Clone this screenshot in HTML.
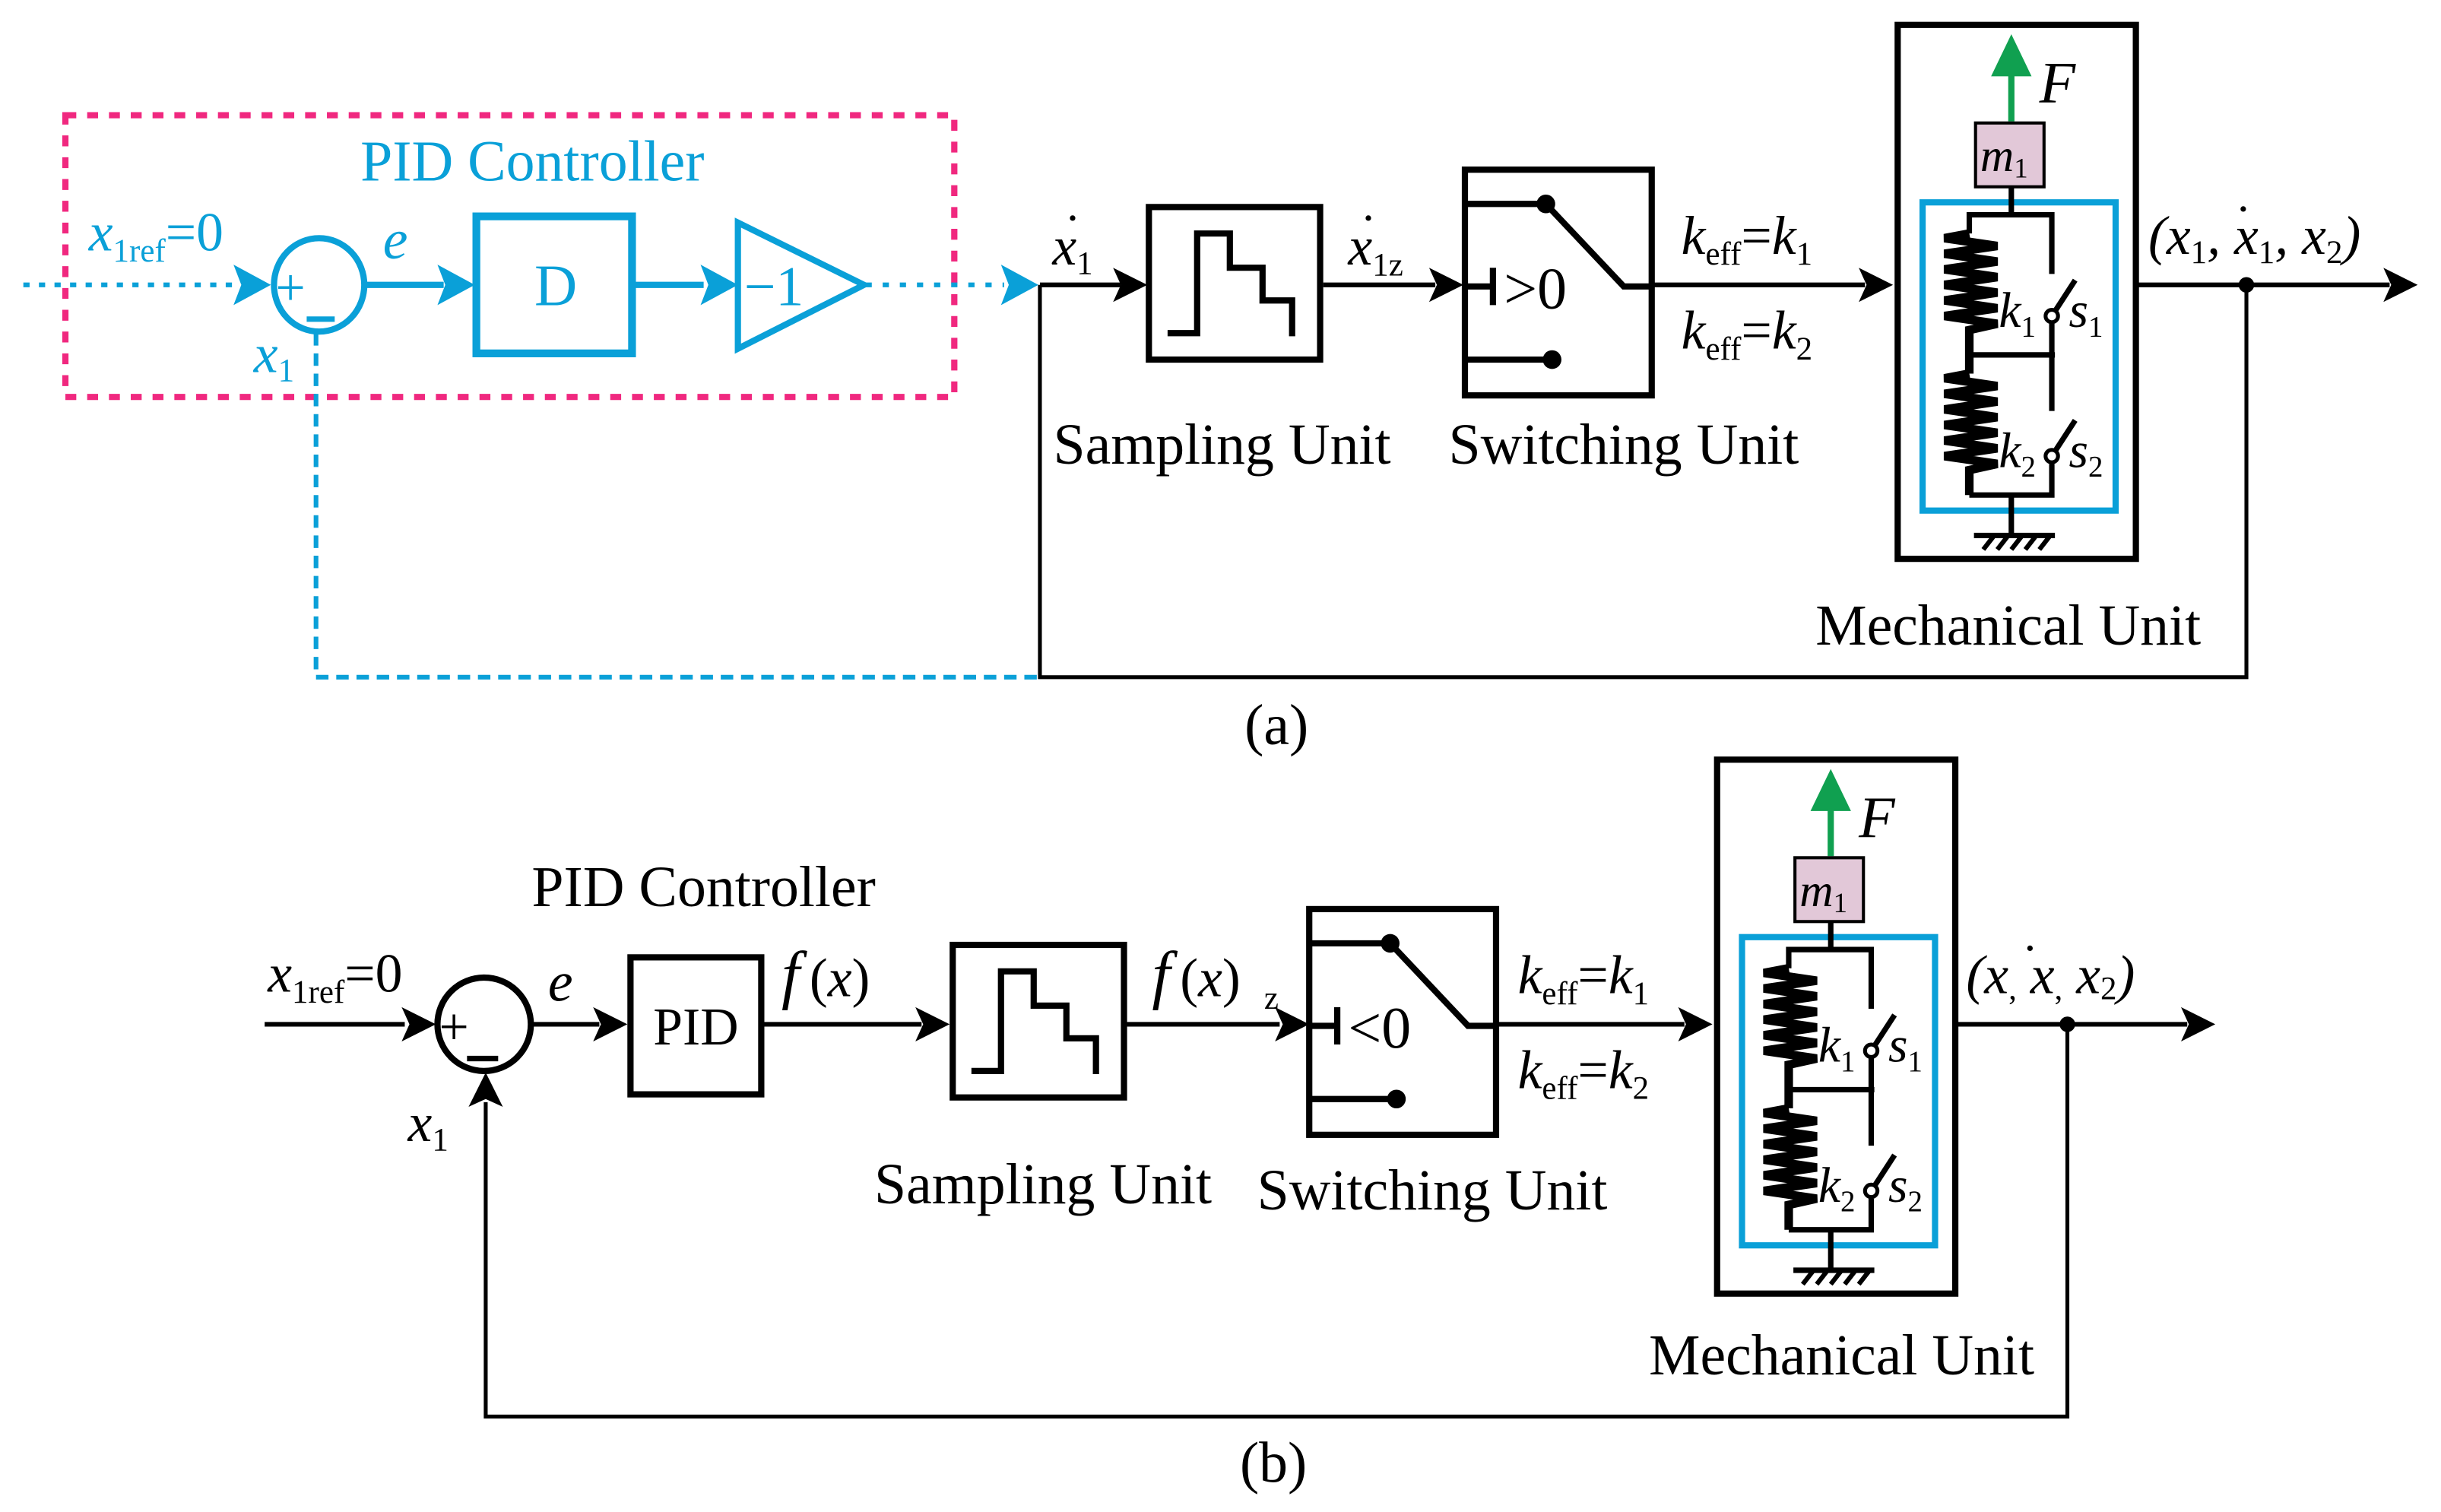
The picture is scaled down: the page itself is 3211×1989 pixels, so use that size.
<!DOCTYPE html>
<html><head><meta charset="utf-8"><style>
html,body{margin:0;padding:0;background:#fff;}
svg{display:block;}
text{font-family:"Liberation Serif",serif;}
.i{font-style:italic;}
</style></head><body>
<svg width="3211" height="1989" viewBox="0 0 1568 971.3" preserveAspectRatio="none" xmlns="http://www.w3.org/2000/svg">
<defs>
<g id="mech">
  <rect x="1219" y="16" width="153" height="343" fill="none" stroke="#000" stroke-width="4"/>
  <rect x="1235" y="130" width="124" height="198" fill="none" stroke="#0aa0d8" stroke-width="4"/>
  <line x1="1292" y1="78" x2="1292" y2="45" stroke="#10a050" stroke-width="4"/>
  <path d="M1279,49 L1292,22 L1305,49 Z" fill="#10a050"/>
  <text x="1310" y="66" font-size="38" class="i">F</text>
  <rect x="1269" y="79" width="44" height="41" fill="#e2c8d8" stroke="#000" stroke-width="2"/>
  <text x="1272" y="110" font-size="30" class="i">m<tspan font-size="18" dy="4" font-style="normal">1</tspan></text>
  <g stroke="#000" stroke-width="3.5" fill="none">
    <line x1="1292" y1="120" x2="1292" y2="138"/>
    <polyline points="1265,150 1265,138 1318,138 1318,176"/>
    <polyline points="1265,150 1249,153 1283,158 1249,163 1283,168 1249,173 1283,178 1249,183 1283,188 1249,193 1283,198 1249,203 1283,208 1265,212 1265,240" stroke-width="5.5"/>
    <polyline points="1265,240 1249,243 1283,248 1249,253 1283,258 1249,263 1283,268 1249,273 1283,278 1249,283 1283,288 1249,293 1283,298 1265,302 1265,318" stroke-width="5.5"/>
    <line x1="1265" y1="228" x2="1320" y2="228"/>
    <polyline points="1318,208 1318,264"/>
    <polyline points="1318,298 1318,318 1265,318"/>
    <line x1="1320" y1="200" x2="1333" y2="180"/>
    <line x1="1320" y1="290" x2="1333" y2="270"/>
    <line x1="1292" y1="318" x2="1292" y2="343"/>
    <line x1="1268" y1="344" x2="1320" y2="344"/>
    <path d="M1274,353 l7,-9 M1283,353 l7,-9 M1292,353 l7,-9 M1301,353 l7,-9 M1310,353 l7,-9" stroke-width="3"/>
  </g>
  <circle cx="1318" cy="203" r="4" fill="#fff" stroke="#000" stroke-width="2.5"/>
  <circle cx="1318" cy="293" r="4" fill="#fff" stroke="#000" stroke-width="2.5"/>
  <text x="1284" y="210" font-size="32" class="i">k<tspan font-size="19" dy="6" font-style="normal">1</tspan></text>
  <text x="1329" y="210" font-size="32" class="i">s<tspan font-size="19" dy="6" font-style="normal">1</tspan></text>
  <text x="1284" y="300" font-size="32" class="i">k<tspan font-size="19" dy="6" font-style="normal">2</tspan></text>
  <text x="1329" y="300" font-size="32" class="i">s<tspan font-size="19" dy="6" font-style="normal">2</tspan></text>
</g>
<g id="samp">
  <rect x="738" y="133" width="110" height="98" fill="none" stroke="#000" stroke-width="4"/>
  <polyline points="750,214 769,214 769,150 790,150 790,172 811,172 811,193 830,193 830,216" fill="none" stroke="#000" stroke-width="4"/>
</g>
<g id="sw">
  <rect x="941" y="109" width="120" height="145" fill="none" stroke="#000" stroke-width="4"/>
  <g stroke="#000" stroke-width="4" fill="none">
    <line x1="941" y1="131" x2="993" y2="131"/>
    <line x1="941" y1="231" x2="996" y2="231"/>
    <polyline points="993,131 1043,184 1061,184"/>
    <line x1="941" y1="184" x2="959" y2="184"/>
    <line x1="959" y1="172" x2="959" y2="196"/>
  </g>
  <circle cx="993" cy="131" r="6" fill="#000"/>
  <circle cx="997" cy="231" r="6" fill="#000"/>
</g>
<path id="ah" d="M0,0 L-22,-11 L-17,0 L-22,11 Z" fill="#000"/>
</defs>

<!-- (a) -->
<rect x="42" y="74" width="571" height="181" fill="none" stroke="#f0287f" stroke-width="4" stroke-dasharray="7,7"/>
<text x="342" y="116" font-size="37" fill="#0aa0d8" text-anchor="middle">PID Controller</text>
<line x1="15" y1="183" x2="150" y2="183" stroke="#0aa0d8" stroke-width="3" stroke-dasharray="4,6"/>
<path d="M174,183 L150,170 L155,183 L150,196 Z" fill="#0aa0d8"/>
<text x="57" y="161" font-size="35" fill="#0aa0d8" class="i">x<tspan font-size="21" dy="7" font-style="normal">1ref</tspan><tspan dy="-7" font-style="normal">=0</tspan></text>
<ellipse cx="205" cy="183" rx="29" ry="30" fill="none" stroke="#0aa0d8" stroke-width="4"/>
<text x="177" y="196" font-size="34" fill="#0aa0d8">+</text>
<line x1="197" y1="205" x2="215" y2="205" stroke="#0aa0d8" stroke-width="3.5"/>
<text x="246" y="166" font-size="36" fill="#0aa0d8" class="i">e</text>
<line x1="234" y1="183" x2="285" y2="183" stroke="#0aa0d8" stroke-width="4"/>
<path d="M305,183 L281,170 L286,183 L281,196 Z" fill="#0aa0d8"/>
<rect x="306" y="139" width="100" height="88" fill="none" stroke="#0aa0d8" stroke-width="5"/>
<text x="357" y="196" font-size="38" fill="#0aa0d8" text-anchor="middle">D</text>
<line x1="406" y1="183" x2="452" y2="183" stroke="#0aa0d8" stroke-width="4"/>
<path d="M474,183 L450,170 L455,183 L450,196 Z" fill="#0aa0d8"/>
<path d="M474,143 L555,183 L474,224 Z" fill="none" stroke="#0aa0d8" stroke-width="4"/>
<text x="478" y="196" font-size="36" fill="#0aa0d8">−1</text>
<line x1="556" y1="183" x2="645" y2="183" stroke="#0aa0d8" stroke-width="3" stroke-dasharray="4,7"/>
<path d="M667,183 L643,170 L648,183 L643,196 Z" fill="#0aa0d8"/>
<text x="163" y="239" font-size="35" fill="#0aa0d8" class="i">x<tspan font-size="21" dy="6" font-style="normal">1</tspan></text>
<polyline points="203,214 203,435 668,435" fill="none" stroke="#0aa0d8" stroke-width="3" stroke-dasharray="8,5"/>

<polyline points="668,183 668,435 1443,435 1443,183" fill="none" stroke="#000" stroke-width="2.5"/>
<line x1="668" y1="183" x2="720" y2="183" stroke="#000" stroke-width="3"/>
<use href="#ah" x="737" y="183"/>
<text x="676" y="170" font-size="35" class="i">x<tspan font-size="21" dy="6" font-style="normal">1</tspan></text><text x="684" y="150" font-size="30">·</text>
<use href="#samp"/>
<line x1="850" y1="183" x2="922" y2="183" stroke="#000" stroke-width="3"/>
<use href="#ah" x="940" y="183"/>
<text x="866" y="170" font-size="35" class="i">x<tspan font-size="21" dy="7" font-style="normal">1z</tspan></text><text x="874" y="150" font-size="30">·</text>
<use href="#sw"/>
<text x="966" y="198" font-size="38">&gt;0</text>
<line x1="1061" y1="183" x2="1198" y2="183" stroke="#000" stroke-width="3"/>
<use href="#ah" x="1216" y="183"/>
<text x="1080" y="163" font-size="35" class="i">k<tspan font-size="21" dy="7" font-style="normal">eff</tspan><tspan dy="-7" font-style="normal">=</tspan>k<tspan font-size="21" dy="7" font-style="normal">1</tspan></text>
<text x="1080" y="224" font-size="35" class="i">k<tspan font-size="21" dy="7" font-style="normal">eff</tspan><tspan dy="-7" font-style="normal">=</tspan>k<tspan font-size="21" dy="7" font-style="normal">2</tspan></text>
<use href="#mech"/>
<line x1="1373" y1="183" x2="1535" y2="183" stroke="#000" stroke-width="3"/>
<use href="#ah" x="1553" y="183"/>
<circle cx="1443" cy="183" r="5" fill="#000"/>
<text x="1380" y="163" font-size="35" class="i">(x<tspan font-size="21" dy="6" font-style="normal">1</tspan><tspan dy="-6">, x</tspan><tspan font-size="21" dy="6" font-style="normal">1</tspan><tspan dy="-6">, x</tspan><tspan font-size="21" dy="6" font-style="normal">2</tspan><tspan dy="-6">)</tspan></text><text x="1436" y="144" font-size="30">·</text>
<text x="785" y="298" font-size="37" text-anchor="middle">Sampling Unit</text>
<text x="1043" y="298" font-size="37" text-anchor="middle">Switching Unit</text>
<text x="1290" y="414" font-size="37" text-anchor="middle">Mechanical Unit</text>
<text x="820" y="478" font-size="37" text-anchor="middle">(a)</text>

<!-- (b) -->
<line x1="170" y1="658" x2="260" y2="658" stroke="#000" stroke-width="3"/>
<use href="#ah" x="280" y="658"/>
<text x="172" y="637" font-size="35" class="i">x<tspan font-size="21" dy="7" font-style="normal">1ref</tspan><tspan dy="-7" font-style="normal">=0</tspan></text>
<circle cx="311" cy="658" r="30" fill="none" stroke="#000" stroke-width="4"/>
<text x="282" y="671" font-size="34">+</text>
<line x1="300" y1="680" x2="320" y2="680" stroke="#000" stroke-width="3.5"/>
<text x="352" y="643" font-size="36" class="i">e</text>
<line x1="341" y1="658" x2="385" y2="658" stroke="#000" stroke-width="3"/>
<use href="#ah" x="403" y="658"/>
<rect x="405" y="615" width="84" height="88" fill="none" stroke="#000" stroke-width="4"/>
<text x="447" y="671" font-size="34" text-anchor="middle">PID</text>
<text x="452" y="582" font-size="37" text-anchor="middle">PID Controller</text>
<line x1="489" y1="658" x2="592" y2="658" stroke="#000" stroke-width="3"/>
<use href="#ah" x="610" y="658"/>
<text x="502" y="640" font-size="42" class="i">f</text><text x="520" y="640" font-size="35">(<tspan font-style="italic">x</tspan>)</text>
<use href="#samp" transform="translate(-126,474)"/>
<line x1="723" y1="658" x2="822" y2="658" stroke="#000" stroke-width="3"/>
<use href="#ah" x="841" y="658"/>
<text x="740" y="640" font-size="42" class="i">f</text><text x="758" y="640" font-size="35">(<tspan font-style="italic">x</tspan>)</text><text x="812" y="648" font-size="21">z</text>
<use href="#sw" transform="translate(-100,475)"/>
<text x="866" y="673" font-size="38">&lt;0</text>
<line x1="961" y1="658" x2="1082" y2="658" stroke="#000" stroke-width="3"/>
<use href="#ah" x="1100" y="658"/>
<text x="975" y="638" font-size="35" class="i">k<tspan font-size="21" dy="7" font-style="normal">eff</tspan><tspan dy="-7" font-style="normal">=</tspan>k<tspan font-size="21" dy="7" font-style="normal">1</tspan></text>
<text x="975" y="699" font-size="35" class="i">k<tspan font-size="21" dy="7" font-style="normal">eff</tspan><tspan dy="-7" font-style="normal">=</tspan>k<tspan font-size="21" dy="7" font-style="normal">2</tspan></text>
<use href="#mech" transform="translate(-116,472)"/>
<line x1="1257" y1="658" x2="1405" y2="658" stroke="#000" stroke-width="3"/>
<use href="#ah" x="1423" y="658"/>
<circle cx="1328" cy="658" r="5" fill="#000"/>
<text x="1263" y="638" font-size="35" class="i">(x<tspan font-size="21" dy="4" font-style="normal">,</tspan><tspan dy="-4">  x</tspan><tspan font-size="21" dy="4" font-style="normal">,</tspan><tspan dy="-4">  x</tspan><tspan font-size="21" dy="4" font-style="normal">2</tspan><tspan dy="-4">)</tspan></text><text x="1299" y="619" font-size="30">·</text>
<polyline points="1328,658 1328,910 312,910 312,708" fill="none" stroke="#000" stroke-width="2.5"/>
<path d="M312,689 L301,711 L312,706 L323,711 Z" fill="#000"/>
<text x="262" y="733" font-size="35" class="i">x<tspan font-size="21" dy="6" font-style="normal">1</tspan></text>
<text x="670" y="773" font-size="37" text-anchor="middle">Sampling Unit</text>
<text x="920" y="777" font-size="37" text-anchor="middle">Switching Unit</text>
<text x="1183" y="883" font-size="37" text-anchor="middle">Mechanical Unit</text>
<text x="818" y="952" font-size="37" text-anchor="middle">(b)</text>
</svg>
</body></html>
